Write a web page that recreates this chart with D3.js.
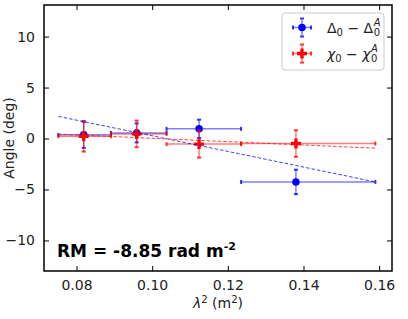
<!DOCTYPE html>
<html>
<head>
<meta charset="utf-8">
<script src="https://cdn.jsdelivr.net/npm/d3@7"></script>
<style>
  body { margin: 0; background: #fff; }
  svg { display: block; font-family: "DejaVu Sans", sans-serif; }
</style>
</head>
<body>
<svg id="chart" width="408" height="319"></svg>
<script>
// lambda^2 bins (m^2)
var lam2 = [0.0819, 0.0959, 0.1124, 0.1380];
var lam2Lo = [0.0752, 0.0891, 0.1038, 0.1235];
var lam2Hi = [0.0891, 0.1038, 0.1235, 0.1590];

// Delta_0 - Delta_0^A (deg)
var deltaVals = [0.36, 0.55, 0.95, -4.26];
var deltaErr = [1.28, 0.93, 0.90, 1.20];

// chi_0 - chi_0^A (deg)
var chiVals = [0.22, 0.45, -0.55, -0.49];
var chiErr = [1.50, 1.31, 1.32, 1.30];

// dashed fits
var fitX = [0.0752, 0.1590];
var deltaFit = [2.17, -4.26];
var chiFit = [0.43, -0.95];

var xTicks = [0.08, 0.10, 0.12, 0.14, 0.16];
var yTicks = [-10, -5, 0, 5, 10];

var margin = {top: 5, right: 16, bottom: 48, left: 44},
    width = 408 - margin.left - margin.right,
    height = 319 - margin.top - margin.bottom;

var svg = d3.select("#chart");

var x = d3.scaleLinear().domain([0.0714, 0.1634]).range([margin.left, margin.left + width]);
var y = d3.scaleLinear().domain([-13, 13.1]).range([margin.top + height, margin.top]);

var blue = "#0000ff", red = "#ff0000";

function errorbars(g, vals, errs, color, marker) {
    var pts = lam2.map(function(d, i) {
        return {x: d, lo: lam2Lo[i], hi: lam2Hi[i], v: vals[i], e: errs[i]};
    });
    // horizontal bars
    g.selectAll(null).data(pts).enter().append("line")
        .attr("x1", d => x(d.lo)).attr("x2", d => x(d.hi))
        .attr("y1", d => y(d.v)).attr("y2", d => y(d.v))
        .style("stroke", color).style("stroke-opacity", 0.5).style("stroke-width", 1.5);
    // vertical bars
    g.selectAll(null).data(pts).enter().append("line")
        .attr("x1", d => x(d.x)).attr("x2", d => x(d.x))
        .attr("y1", d => y(d.v - d.e)).attr("y2", d => y(d.v + d.e))
        .style("stroke", color).style("stroke-opacity", 0.5).style("stroke-width", 1.5);
    // caps
    pts.forEach(function(d) {
        [d.lo, d.hi].forEach(function(xv) {
            g.append("line")
                .attr("x1", x(xv)).attr("x2", x(xv))
                .attr("y1", y(d.v) - 2).attr("y2", y(d.v) + 2)
                .style("stroke", color).style("stroke-opacity", 0.8).style("stroke-width", 2);
        });
        [d.v - d.e, d.v + d.e].forEach(function(yv) {
            g.append("line")
                .attr("x1", x(d.x) - 2).attr("x2", x(d.x) + 2)
                .attr("y1", y(yv)).attr("y2", y(yv))
                .style("stroke", color).style("stroke-opacity", 0.8).style("stroke-width", 2);
        });
    });
    // markers
    g.selectAll(null).data(pts).enter().append("path")
        .attr("transform", d => "translate(" + x(d.x) + "," + y(d.v) + ")")
        .attr("d", marker)
        .style("fill", color);
}

var circle = d3.symbol().type(d3.symbolCircle).size(44)();
var plus = d3.symbol().type(d3.symbolCross).size(55)();

// plot frame
var plot = svg.append("g");

errorbars(plot.append("g"), deltaVals, deltaErr, blue, circle);
errorbars(plot.append("g"), chiVals, chiErr, red, plus);

// fit lines
var fitLine = d3.line().x(d => x(d[0])).y(d => y(d[1]));
plot.append("path")
    .attr("d", fitLine(fitX.map((v, i) => [v, deltaFit[i]])))
    .style("fill", "none").style("stroke", blue).style("stroke-opacity", 0.75)
    .style("stroke-width", 1).style("stroke-dasharray", "3.5,2");
plot.append("path")
    .attr("d", fitLine(fitX.map((v, i) => [v, chiFit[i]])))
    .style("fill", "none").style("stroke", red).style("stroke-opacity", 0.75)
    .style("stroke-width", 1).style("stroke-dasharray", "3.5,2");

// axes (ticks pointing in)
function styleAxis(g) {
    g.select(".domain").remove();
    g.selectAll(".tick line").style("stroke", "#000").style("stroke-width", 1);
    g.selectAll(".tick text").style("font-size", "14px").style("fill", "#222")
        .style("font-family", "DejaVu Sans");
}

svg.append("g")
    .attr("transform", "translate(0," + (margin.top + height) + ")")
    .call(d3.axisBottom(x).tickValues(xTicks).tickFormat(d3.format(".2f")).tickSizeInner(-5).tickPadding(9))
    .call(styleAxis);
svg.append("g")
    .attr("transform", "translate(0," + margin.top + ")")
    .call(d3.axisTop(x).tickValues(xTicks).tickSizeInner(-5).tickFormat(""))
    .call(styleAxis);
svg.append("g")
    .attr("transform", "translate(" + margin.left + ",0)")
    .call(d3.axisLeft(y).tickValues(yTicks).tickSizeInner(-5).tickPadding(9)
        .tickFormat(d => d < 0 ? "\u2212" + Math.abs(d) : d))
    .call(styleAxis);
svg.append("g")
    .attr("transform", "translate(" + (margin.left + width) + ",0)")
    .call(d3.axisRight(y).tickValues(yTicks).tickSizeInner(-5).tickFormat(""))
    .call(styleAxis);

svg.append("rect")
    .attr("x", margin.left).attr("y", margin.top)
    .attr("width", width).attr("height", height)
    .style("fill", "none").style("stroke", "#000").style("stroke-width", 1.5);

// axis labels
svg.append("text")
    .attr("transform", "translate(14," + (margin.top + height / 2) + ") rotate(-90)")
    .attr("text-anchor", "middle")
    .style("font-size", "14px").style("fill", "#222")
    .text("Angle (deg)");

var xl = svg.append("text")
    .attr("x", margin.left + width / 2).attr("y", 308)
    .attr("text-anchor", "middle")
    .style("font-size", "14px").style("fill", "#222");
xl.append("tspan").style("font-style", "italic").text("\u03bb");
xl.append("tspan").attr("dy", -5).style("font-size", "10px").text("2");
xl.append("tspan").attr("dy", 5).text(" (m");
xl.append("tspan").attr("dy", -5).style("font-size", "10px").text("2");
xl.append("tspan").attr("dy", 5).text(")");

// RM annotation
var rm = svg.append("text")
    .attr("x", 57).attr("y", 257)
    .style("font-size", "17px").style("font-weight", "bold").style("fill", "#000");
rm.append("tspan").text("RM = -8.85 rad m");
rm.append("tspan").attr("dy", -7).style("font-size", "11px").text("-2");

// legend
var leg = svg.append("g");
leg.append("rect")
    .attr("x", 282).attr("y", 13).attr("width", 102).attr("height", 57).attr("rx", 3)
    .style("fill", "#fff").style("fill-opacity", 0.8)
    .style("stroke", "#cccccc").style("stroke-width", 1);

var legItems = [
    {color: blue, marker: circle, sym: "\u0394", italic: false, cy: 27.5},
    {color: red, marker: plus, sym: "\u03c7", italic: true, cy: 53.5}
];
legItems.forEach(function(it) {
    var g = leg.append("g").attr("transform", "translate(302," + it.cy + ")");
    g.append("line").attr("x1", -9).attr("x2", 9).attr("y1", 0).attr("y2", 0)
        .style("stroke", it.color).style("stroke-opacity", 0.5).style("stroke-width", 1.5);
    g.append("line").attr("x1", 0).attr("x2", 0).attr("y1", -8).attr("y2", 8)
        .style("stroke", it.color).style("stroke-opacity", 0.5).style("stroke-width", 1.5);
    [-9, 9].forEach(function(o) {
        g.append("line").attr("x1", o).attr("x2", o).attr("y1", -2).attr("y2", 2)
            .style("stroke", it.color).style("stroke-opacity", 0.8).style("stroke-width", 2);
        g.append("line").attr("y1", o).attr("y2", o).attr("x1", -2).attr("x2", 2)
            .style("stroke", it.color).style("stroke-opacity", 0.8).style("stroke-width", 2);
    });
    g.append("path").attr("d", it.marker).style("fill", it.color);

    var base = it.cy + 5.5;
    var t = leg.append("text").attr("x", 327).attr("y", base)
        .style("font-size", "14px").style("fill", "#222");
    t.append("tspan").style("font-style", it.italic ? "italic" : "normal").text(it.sym);
    t.append("tspan").attr("dy", 3).style("font-size", "10px").text("0");
    t.append("tspan").attr("dy", -3).text(" \u2212 ");
    t.append("tspan").style("font-style", it.italic ? "italic" : "normal").text(it.sym);
    var bx = 327 + t.node().getComputedTextLength() + 0.5;
    leg.append("text").attr("x", bx).attr("y", base + 3)
        .style("font-size", "10px").style("fill", "#222").text("0");
    leg.append("text").attr("x", bx).attr("y", base - 7)
        .style("font-size", "10px").style("font-style", "italic").style("fill", "#222").text("A");
});
</script>
</body>
</html>
